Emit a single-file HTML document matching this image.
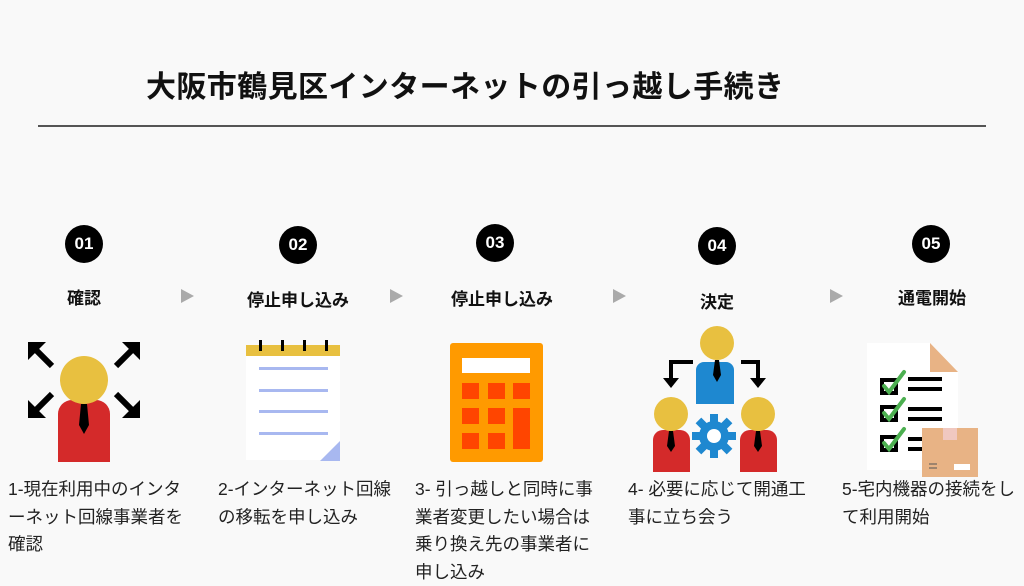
<!DOCTYPE html>
<html><head><meta charset="utf-8"><style>
body{margin:0;width:1024px;height:576px;background:#f9f9f9;position:relative;overflow:hidden;font-family:"Liberation Sans","Noto Sans CJK JP",sans-serif;color:#111}
.a{position:absolute}
.t{left:146px;top:62px;font-size:30px;font-weight:bold;white-space:nowrap;letter-spacing:0.4px}
.hr{left:38px;top:125px;width:948px;height:1.5px;background:#555}
.c{width:38px;height:38px;border-radius:50%;background:#000;color:#fff;font-weight:bold;font-size:17px;line-height:38px;text-align:center}
.l{font-size:17px;font-weight:bold;width:160px;text-align:center;white-space:nowrap}
.ar{width:0;height:0;border-left:13px solid #aaa;border-top:7px solid transparent;border-bottom:7px solid transparent}
.d{font-size:17.5px;line-height:27.5px;white-space:nowrap;color:#222}
</style></head><body>
<div class="a t">大阪市鶴見区インターネットの引っ越し手続き</div>
<div class="a hr"></div>
<div class="a c" style="left:65px;top:225px">01</div>
<div class="a c" style="left:279px;top:226px">02</div>
<div class="a c" style="left:476px;top:224px">03</div>
<div class="a c" style="left:698px;top:227px">04</div>
<div class="a c" style="left:912px;top:225px">05</div>
<div class="a l" style="left:4px;top:284px">確認</div>
<div class="a l" style="left:218px;top:286px">停止申し込み</div>
<div class="a l" style="left:422px;top:285px">停止申し込み</div>
<div class="a l" style="left:637px;top:288px">決定</div>
<div class="a l" style="left:852px;top:284px">通電開始</div>
<div class="a ar" style="left:181px;top:289px"></div>
<div class="a ar" style="left:390px;top:289px"></div>
<div class="a ar" style="left:613px;top:289px"></div>
<div class="a ar" style="left:830px;top:289px"></div>
<svg class="a" style="left:0;top:0" width="1024" height="576">
<g stroke="#000" stroke-width="6" fill="none">
<line x1="52" y1="366" x2="34" y2="348"/><line x1="116" y1="366" x2="134" y2="348"/>
<line x1="52" y1="394" x2="34" y2="412"/><line x1="116" y1="394" x2="134" y2="412"/>
</g>
<g fill="#000">
<polygon points="28,342 46,342 28,360"/><polygon points="140,342 122,342 140,360"/>
<polygon points="28,418 46,418 28,400"/><polygon points="140,418 122,418 140,400"/>
</g>
<path d="M58,462 V414 a14,14 0 0 1 14,-14 H96 a14,14 0 0 1 14,14 V462Z" fill="#d42a2a"/>
<circle cx="84" cy="380" r="24" fill="#e8c040"/>
<polygon points="81,404 87,404 89,425 84,434 79,425" fill="#000"/>
<rect x="246" y="345" width="94" height="115" fill="#fff"/>
<rect x="246" y="345" width="94" height="11" fill="#e8c040"/>
<g fill="#000"><rect x="259" y="340" width="3" height="11"/><rect x="281" y="340" width="3" height="11"/><rect x="303" y="340" width="3" height="11"/><rect x="325" y="340" width="3" height="11"/></g>
<g fill="#a8b8f0"><rect x="259" y="367" width="69" height="3"/><rect x="259" y="389" width="69" height="3"/><rect x="259" y="410" width="69" height="3"/><rect x="259" y="432" width="69" height="3"/></g>
<polygon points="340,441 340,461 320,461" fill="#a8b8f0"/>
<rect x="450" y="343" width="93" height="119" rx="3" fill="#ff9a00"/>
<rect x="462" y="358" width="68" height="15" fill="#fff"/>
<g fill="#ff4500"><rect x="462" y="383" width="17" height="16"/><rect x="488" y="383" width="17" height="16"/><rect x="513" y="383" width="17" height="16"/>
<rect x="462" y="408" width="17" height="16"/><rect x="488" y="408" width="17" height="16"/><rect x="513" y="408" width="17" height="41"/>
<rect x="462" y="433" width="17" height="16"/><rect x="488" y="433" width="17" height="16"/></g>
<g stroke="#000" stroke-width="4" fill="none"><polyline points="693,362 671,362 671,382"/><polyline points="741,362 758,362 758,382"/></g>
<polygon points="663,378 679,378 671,388" fill="#000"/><polygon points="750,378 766,378 758,388" fill="#000"/>
<path d="M696,404 V370 a8,8 0 0 1 8,-8 H726 a8,8 0 0 1 8,8 V404Z" fill="#1e88d0"/>
<circle cx="717" cy="343" r="17" fill="#e8c040"/>
<polygon points="715,360 719,360 721,375 717,382 713,375" fill="#000"/>
<path d="M653,472 V440 a10,10 0 0 1 10,-10 H680 a10,10 0 0 1 10,10 V472Z" fill="#d42a2a"/>
<path d="M740,472 V440 a10,10 0 0 1 10,-10 H767 a10,10 0 0 1 10,10 V472Z" fill="#d42a2a"/>
<circle cx="671" cy="414" r="17" fill="#e8c040"/><circle cx="758" cy="414" r="17" fill="#e8c040"/>
<polygon points="669,431 673,431 675,446 671,452 667,446" fill="#000"/>
<polygon points="756,431 760,431 762,446 758,452 754,446" fill="#000"/>
<g fill="#1e88d0"><circle cx="714" cy="436" r="15"/>
<g transform="translate(714,436)"><rect x="-4" y="-22" width="8" height="44"/><rect x="-22" y="-4" width="44" height="8"/><rect x="-4" y="-22" width="8" height="44" transform="rotate(45)"/><rect x="-4" y="-22" width="8" height="44" transform="rotate(-45)"/></g></g>
<circle cx="714" cy="436" r="7" fill="#fff"/>
<polygon points="867,343 930,343 958,372 958,470 867,470" fill="#fff"/>
<polygon points="930,343 958,372 930,372" fill="#e8b385"/>
<g fill="none" stroke="#000" stroke-width="4"><rect x="882" y="380" width="14" height="13"/><rect x="882" y="407" width="14" height="13"/><rect x="882" y="437" width="14" height="13"/></g>
<g stroke="#000" stroke-width="4"><line x1="908" y1="379" x2="942" y2="379"/><line x1="908" y1="389" x2="942" y2="389"/><line x1="908" y1="409" x2="942" y2="409"/><line x1="908" y1="419" x2="942" y2="419"/><line x1="908" y1="439" x2="930" y2="439"/><line x1="908" y1="449" x2="930" y2="449"/></g>
<g stroke="#4caf50" stroke-width="4" fill="none" stroke-linecap="round"><polyline points="884,386 889,392 904,372"/><polyline points="884,413 889,419 904,399"/><polyline points="884,443 889,449 904,429"/></g>
<rect x="922" y="428" width="56" height="49" fill="#e8b385"/>
<rect x="943" y="428" width="14" height="12" fill="#f0c8c0"/>
<rect x="954" y="464" width="16" height="6" fill="#fff"/>
<g stroke="#555" stroke-width="1"><line x1="929" y1="464" x2="937" y2="464"/><line x1="929" y1="468" x2="937" y2="468"/></g>
</svg>
<div class="a d" style="left:8px;top:476px">1-現在利用中のインタ<br>ーネット回線事業者を<br>確認</div>
<div class="a d" style="left:218px;top:476px">2-インターネット回線<br>の移転を申し込み</div>
<div class="a d" style="left:415px;top:476px">3- 引っ越しと同時に事<br>業者変更したい場合は<br>乗り換え先の事業者に<br>申し込み</div>
<div class="a d" style="left:628px;top:476px">4- 必要に応じて開通工<br>事に立ち会う</div>
<div class="a d" style="left:842px;top:476px">5-宅内機器の接続をし<br>て利用開始</div>
</body></html>
